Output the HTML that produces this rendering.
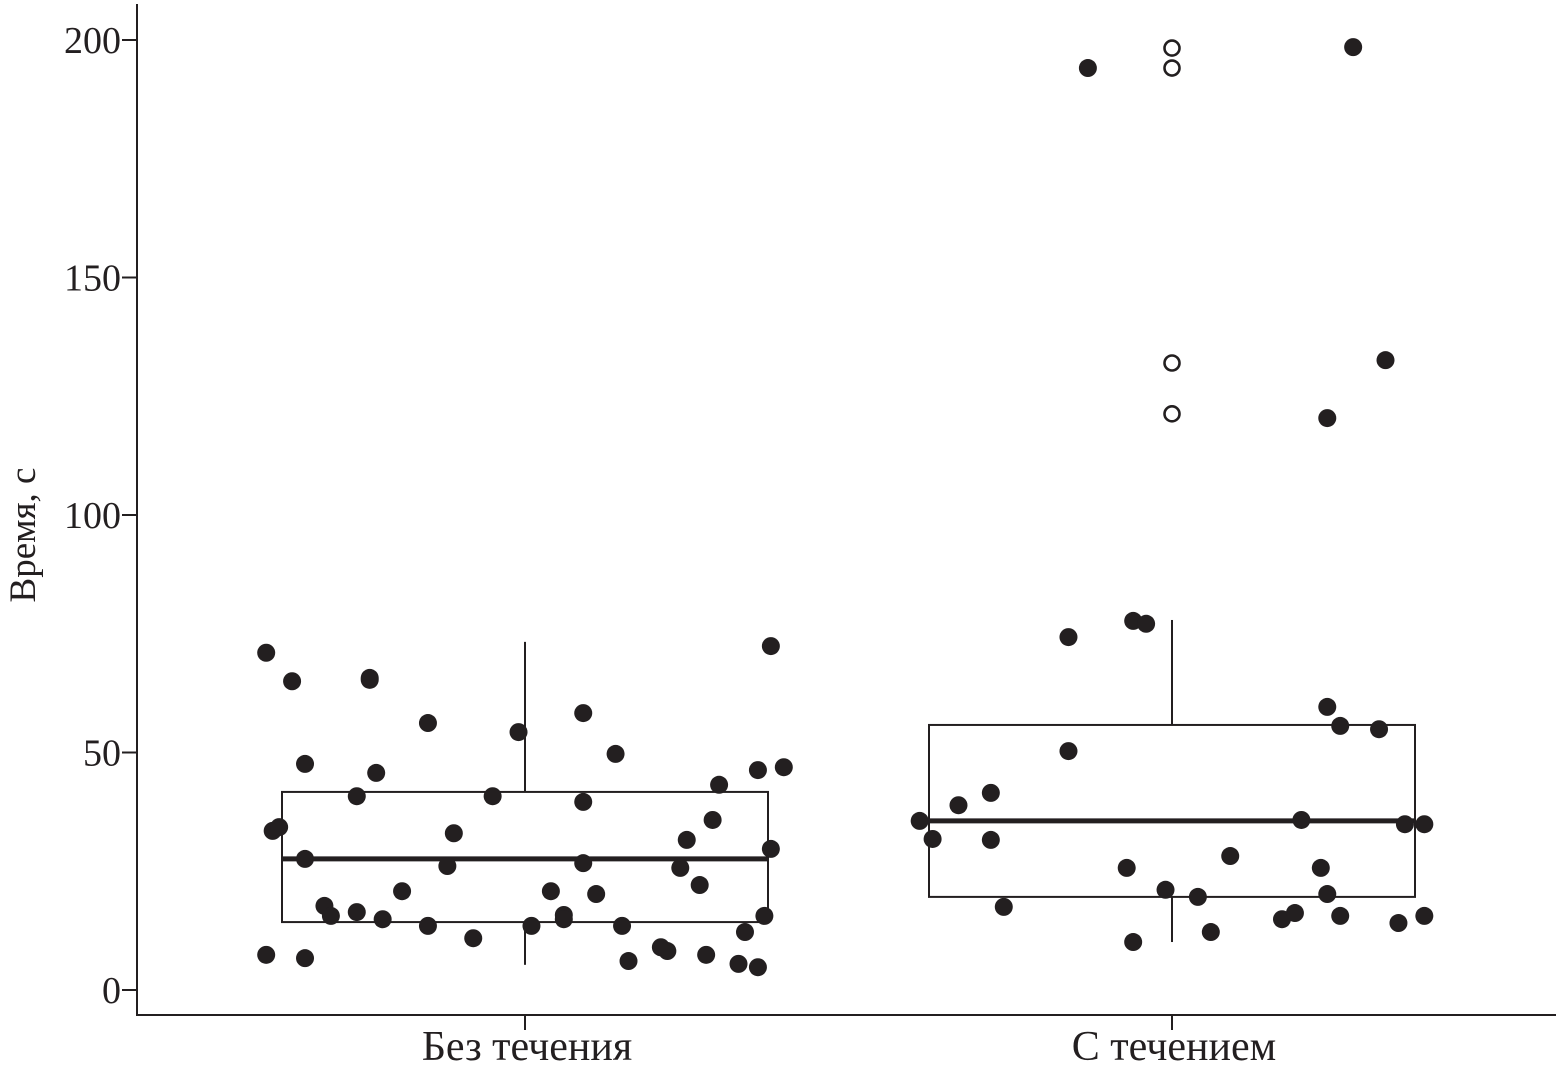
<!DOCTYPE html>
<html><head><meta charset="utf-8"><style>
html,body{margin:0;padding:0;background:#fff;}
svg{display:block;}
text{font-family:"Liberation Serif",serif;fill:#231f20;}
</style></head><body>
<svg id="chart" width="1556" height="1075" viewBox="0 0 1556 1075" xmlns="http://www.w3.org/2000/svg"></svg>
<script>
const categories = ["Без течения", "С течением"];
const yTicks = [0, 50, 100, 150, 200];
// box stats: [whiskerLow, q1, median, q3, whiskerHigh]
const boxStats1 = [5.3, 14.3, 27.6, 41.7, 73.3];
const boxStats2 = [10.1, 19.6, 35.6, 55.8, 77.9];
const outliers2 = [198.3, 194.1, 132, 121.3];
// jitter as fraction of category spacing, and values
const jitter1 = [-0.40,-0.36,-0.34,-0.39,-0.38,-0.34,-0.31,-0.30,-0.40,-0.34,-0.26,-0.26,-0.24,-0.24,-0.23,-0.22,-0.19,-0.15,-0.15,-0.12,-0.11,-0.08,-0.05,-0.01,0.01,0.04,0.06,0.06,0.09,0.09,0.09,0.11,0.14,0.15,0.16,0.21,0.22,0.24,0.25,0.27,0.28,0.29,0.30,0.33,0.34,0.36,0.36,0.37,0.38,0.38,0.40];
const values1 = [71,65,47.6,33.5,34.3,27.6,17.7,15.6,7.4,6.7,16.4,40.8,65.3,65.7,45.7,14.9,20.8,13.5,56.2,26.1,33,10.9,40.8,54.3,13.5,20.8,15.8,14.9,26.7,58.3,39.6,20.2,49.7,13.5,6.1,9,8.2,25.7,31.6,22.1,7.4,35.8,43.2,5.5,12.2,4.8,46.3,15.6,72.4,29.7,46.9];
const jitter2 = [-0.39,-0.37,-0.33,-0.28,-0.28,-0.26,-0.16,-0.16,-0.13,-0.07,-0.06,-0.06,-0.04,-0.01,0.04,0.06,0.09,0.17,0.19,0.20,0.23,0.24,0.24,0.24,0.26,0.26,0.28,0.32,0.33,0.35,0.36,0.39,0.39];
const values2 = [35.6,31.8,38.9,41.5,31.6,17.5,74.3,50.3,194.1,25.7,10.1,77.7,77.1,21.1,19.6,12.2,28.2,14.9,16.2,35.8,25.7,59.6,20.2,120.4,55.6,15.6,198.5,54.9,132.6,14.1,34.9,34.9,15.6];

const svg = document.getElementById('chart');
const NS = 'http://www.w3.org/2000/svg';
const y = v => 990 - v * 4.75;
const xc = i => 525 + i * 647;
const band = 647, boxHalf = 243;
function el(tag, attrs, parent) {
  const e = document.createElementNS(NS, tag);
  for (const k in attrs) e.setAttribute(k, attrs[k]);
  (parent || svg).appendChild(e);
  return e;
}
const ink = '#231f20';
let a = el('line', {x1:137,y1:4,x2:137,y2:1016,stroke:ink,'stroke-width':2});


a = el('line', {x1:136,y1:1015,x2:1556,y2:1015,stroke:ink,'stroke-width':2});


yTicks.forEach(t => {
  const tk = el('line', {x1:122,y1:y(t),x2:137,y2:y(t),stroke:ink,'stroke-width':2});
  
  
  const tx = el('text', {x:121,y:y(t)+13,'text-anchor':'end','font-size':38});
  tx.textContent = t;
  
  
});
categories.forEach((c, i) => {
  const tk = el('line', {x1:xc(i),y1:1015,x2:xc(i),y2:1030,stroke:ink,'stroke-width':2});
  
  
  const tx = el('text', {x:xc(i)+2,y:1060,'text-anchor':'middle','font-size':42});
  tx.textContent = c;
  
  
});
const yl = el('text', {x:0,y:0,'text-anchor':'middle','font-size':37,transform:'translate(35,535) rotate(-90)'});
yl.textContent = 'Время, с';



function drawBox(stats, i) {
  const g = el('g', {});
  
  
  const cx = xc(i);
  el('line', {x1:cx,y1:y(stats[0]),x2:cx,y2:y(stats[1]),stroke:ink,'stroke-width':2}, g);
  el('line', {x1:cx,y1:y(stats[3]),x2:cx,y2:y(stats[4]),stroke:ink,'stroke-width':2}, g);
  el('rect', {x:cx-boxHalf,y:y(stats[3]),width:boxHalf*2,height:y(stats[1])-y(stats[3]),fill:'none',stroke:ink,'stroke-width':2}, g);
  el('line', {x1:cx-boxHalf,y1:y(stats[2]),x2:cx+boxHalf,y2:y(stats[2]),stroke:ink,'stroke-width':5}, g);
}
drawBox(boxStats1, 0);
drawBox(boxStats2, 1);
outliers2.forEach(v => {
  const c = el('circle', {cx:xc(1),cy:y(v),r:7.5,fill:'none',stroke:ink,'stroke-width':2.6});
  
  
});
function drawPoints(jit, vals, i) {
  vals.forEach((v, k) => {
    const c = el('circle', {cx:xc(i)+jit[k]*band,cy:y(v),r:9,fill:ink});
    
    
  });
}
drawPoints(jitter1, values1, 0);
drawPoints(jitter2, values2, 1);
</script>
</body></html>
